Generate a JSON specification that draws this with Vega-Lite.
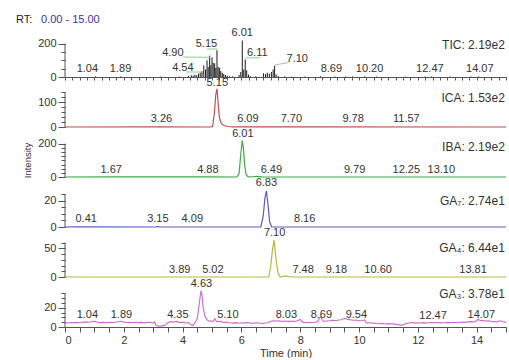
{
"$schema":"https://vega.github.io/schema/vega-lite/v6.json",
"padding":{"left":15,"top":14,"right":0,"bottom":0},
"bounds":"flush",
"spacing":0,
"background":"white",
"config":{"view":{"stroke":null},"font":"Liberation Sans","text":{"font":"Liberation Sans"},"axis":{"labelFont":"Liberation Sans","labelFontSize":11,"labelColor":"#333333","tickColor":"#555555","domainColor":"#555555","grid":false,"labelOverlap":false}},
"datasets":{
"tic":[{"t":1.04,"v":4},{"t":1.89,"v":4},{"t":3.26,"v":3},{"t":3.9,"v":3},{"t":4.2,"v":6},{"t":4.3,"v":10},{"t":4.36,"v":8},{"t":4.42,"v":14},{"t":4.48,"v":10},{"t":4.54,"v":20},{"t":4.6,"v":26},{"t":4.66,"v":34},{"t":4.72,"v":70},{"t":4.78,"v":45},{"t":4.83,"v":100},{"t":4.87,"v":60},{"t":4.92,"v":128},{"t":4.96,"v":70},{"t":5.0,"v":118},{"t":5.04,"v":85},{"t":5.09,"v":82},{"t":5.13,"v":55},{"t":5.17,"v":160},{"t":5.21,"v":60},{"t":5.26,"v":55},{"t":5.3,"v":35},{"t":5.35,"v":25},{"t":5.4,"v":18},{"t":5.46,"v":12},{"t":5.52,"v":8},{"t":5.6,"v":5},{"t":5.7,"v":4},{"t":5.92,"v":12},{"t":5.98,"v":30},{"t":6.03,"v":219},{"t":6.08,"v":45},{"t":6.13,"v":105},{"t":6.18,"v":40},{"t":6.24,"v":15},{"t":6.3,"v":6},{"t":6.49,"v":4},{"t":6.75,"v":22},{"t":6.82,"v":18},{"t":6.88,"v":26},{"t":6.95,"v":20},{"t":7.02,"v":30},{"t":7.08,"v":45},{"t":7.13,"v":68},{"t":7.18,"v":15},{"t":7.25,"v":6},{"t":7.48,"v":4},{"t":7.7,"v":3},{"t":8.16,"v":3},{"t":8.69,"v":5},{"t":9.18,"v":3},{"t":9.54,"v":3},{"t":9.78,"v":3},{"t":10.2,"v":4},{"t":10.6,"v":3},{"t":11.57,"v":3},{"t":12.25,"v":3},{"t":12.47,"v":3},{"t":13.1,"v":3},{"t":13.81,"v":3},{"t":14.07,"v":4}],
"ica":[{"t":0,"v":0},{"t":3.26,"v":0.5},{"t":4.95,"v":0},{"t":5.02,"v":2},{"t":5.08,"v":55},{"t":5.13,"v":130},{"t":5.17,"v":153},{"t":5.21,"v":95},{"t":5.25,"v":40},{"t":5.3,"v":18},{"t":5.36,"v":9},{"t":5.44,"v":5},{"t":5.55,"v":2},{"t":5.7,"v":0.5},{"t":6.09,"v":0.5},{"t":7.7,"v":0.3},{"t":15,"v":0}],
"iba":[{"t":0,"v":0},{"t":1.67,"v":0.5},{"t":4.88,"v":0.5},{"t":5.85,"v":0},{"t":5.92,"v":20},{"t":5.97,"v":120},{"t":6.03,"v":219},{"t":6.07,"v":170},{"t":6.11,"v":70},{"t":6.16,"v":15},{"t":6.22,"v":2},{"t":6.3,"v":0},{"t":6.45,"v":3},{"t":6.55,"v":4},{"t":6.7,"v":1},{"t":7,"v":0},{"t":15,"v":0}],
"ga7":[{"t":0,"v":0},{"t":0.41,"v":0.2},{"t":3.1,"v":0},{"t":3.15,"v":0.5},{"t":3.2,"v":0},{"t":6.66,"v":0},{"t":6.74,"v":8},{"t":6.8,"v":22},{"t":6.85,"v":27.4},{"t":6.9,"v":18},{"t":6.96,"v":4},{"t":7.03,"v":0},{"t":15,"v":0}],
"ga4":[{"t":0,"v":0},{"t":6.93,"v":0},{"t":7.0,"v":20},{"t":7.05,"v":45},{"t":7.11,"v":64.4},{"t":7.17,"v":35},{"t":7.24,"v":8},{"t":7.32,"v":0},{"t":7.4,"v":1},{"t":7.5,"v":2},{"t":7.6,"v":0.8},{"t":7.8,"v":0},{"t":15,"v":0}],
"ga3":[{"t":0.0,"v":4.5},{"t":0.1,"v":4.2},{"t":0.2,"v":4.6},{"t":0.3,"v":4.3},{"t":0.4,"v":4.8},{"t":0.5,"v":4.5},{"t":0.6,"v":4.9},{"t":0.7,"v":5.3},{"t":0.8,"v":4.9},{"t":0.9,"v":5.5},{"t":1.0,"v":6.0},{"t":1.1,"v":5.2},{"t":1.2,"v":4.6},{"t":1.3,"v":4.8},{"t":1.4,"v":4.4},{"t":1.5,"v":4.9},{"t":1.6,"v":4.6},{"t":1.7,"v":5.0},{"t":1.8,"v":5.4},{"t":1.9,"v":6.0},{"t":2.0,"v":5.1},{"t":2.1,"v":4.7},{"t":2.2,"v":4.9},{"t":2.3,"v":4.5},{"t":2.4,"v":5.0},{"t":2.5,"v":4.6},{"t":2.6,"v":4.8},{"t":2.7,"v":4.3},{"t":2.8,"v":4.7},{"t":2.9,"v":4.9},{"t":3.0,"v":4.0},{"t":3.05,"v":5.5},{"t":3.1,"v":1.5},{"t":3.2,"v":0.8},{"t":3.3,"v":1.2},{"t":3.4,"v":1.8},{"t":3.5,"v":4.5},{"t":3.6,"v":5.6},{"t":3.7,"v":5.2},{"t":3.8,"v":5.8},{"t":3.9,"v":4.6},{"t":4.0,"v":4.9},{"t":4.1,"v":4.2},{"t":4.2,"v":4.6},{"t":4.3,"v":2.0},{"t":4.35,"v":1.5},{"t":4.4,"v":3.5},{"t":4.45,"v":6},{"t":4.5,"v":9},{"t":4.55,"v":20},{"t":4.6,"v":32},{"t":4.63,"v":37.8},{"t":4.66,"v":33},{"t":4.7,"v":20},{"t":4.75,"v":12},{"t":4.8,"v":9},{"t":4.85,"v":7},{"t":4.9,"v":6},{"t":4.95,"v":6.5},{"t":5.0,"v":5.5},{"t":5.05,"v":6.5},{"t":5.1,"v":8.5},{"t":5.15,"v":6},{"t":5.2,"v":5.5},{"t":5.3,"v":6},{"t":5.4,"v":4.6},{"t":5.5,"v":5.2},{"t":5.6,"v":4.4},{"t":5.7,"v":4.0},{"t":5.8,"v":4.5},{"t":5.9,"v":3.9},{"t":6.0,"v":4.4},{"t":6.1,"v":4.0},{"t":6.2,"v":4.6},{"t":6.3,"v":4.2},{"t":6.4,"v":3.8},{"t":6.5,"v":4.4},{"t":6.6,"v":4.1},{"t":6.7,"v":3.6},{"t":6.8,"v":4.2},{"t":6.9,"v":4.5},{"t":7.0,"v":6.0},{"t":7.1,"v":6.5},{"t":7.2,"v":6.2},{"t":7.3,"v":6.4},{"t":7.4,"v":5.8},{"t":7.5,"v":6.3},{"t":7.6,"v":5.6},{"t":7.7,"v":6.2},{"t":7.8,"v":5.7},{"t":7.9,"v":6.4},{"t":8.0,"v":7.8},{"t":8.05,"v":6.0},{"t":8.1,"v":4.8},{"t":8.2,"v":4.5},{"t":8.3,"v":4.9},{"t":8.4,"v":4.5},{"t":8.5,"v":5.0},{"t":8.6,"v":5.8},{"t":8.65,"v":9.0},{"t":8.7,"v":10.5},{"t":8.75,"v":7.5},{"t":8.8,"v":5.8},{"t":8.9,"v":6.2},{"t":9.0,"v":6.5},{"t":9.1,"v":7.0},{"t":9.2,"v":6.6},{"t":9.3,"v":7.2},{"t":9.4,"v":7.6},{"t":9.5,"v":9.0},{"t":9.55,"v":8.5},{"t":9.6,"v":8.0},{"t":9.7,"v":7.5},{"t":9.8,"v":7.0},{"t":9.9,"v":7.2},{"t":10.0,"v":6.5},{"t":10.1,"v":6.8},{"t":10.2,"v":7.2},{"t":10.25,"v":4.0},{"t":10.3,"v":4.6},{"t":10.4,"v":4.2},{"t":10.5,"v":4.0},{"t":10.6,"v":3.6},{"t":10.7,"v":3.4},{"t":10.8,"v":3.6},{"t":10.9,"v":3.2},{"t":11.0,"v":3.5},{"t":11.1,"v":3.2},{"t":11.2,"v":3.0},{"t":11.3,"v":2.6},{"t":11.4,"v":2.0},{"t":11.5,"v":2.2},{"t":11.6,"v":3.6},{"t":11.7,"v":4.2},{"t":11.8,"v":4.6},{"t":11.9,"v":4.0},{"t":12.0,"v":4.4},{"t":12.1,"v":4.1},{"t":12.2,"v":4.5},{"t":12.3,"v":4.2},{"t":12.4,"v":4.6},{"t":12.5,"v":4.3},{"t":12.6,"v":4.7},{"t":12.7,"v":4.4},{"t":12.8,"v":4.6},{"t":12.9,"v":4.2},{"t":13.0,"v":4.8},{"t":13.1,"v":4.4},{"t":13.2,"v":4.9},{"t":13.3,"v":4.6},{"t":13.4,"v":5.0},{"t":13.5,"v":5.2},{"t":13.6,"v":4.8},{"t":13.7,"v":5.3},{"t":13.8,"v":5.6},{"t":13.9,"v":5.2},{"t":14.0,"v":6.5},{"t":14.05,"v":8.0},{"t":14.1,"v":7.0},{"t":14.2,"v":6.6},{"t":14.3,"v":6.2},{"t":14.4,"v":6.5},{"t":14.5,"v":6.0},{"t":14.6,"v":5.6},{"t":14.7,"v":5.3},{"t":14.8,"v":6.5},{"t":14.9,"v":5.5},{"t":15.0,"v":4.8}],
"labels":[
{"p":"TIC","s":"1.04","t":0.76,"v":46},{"p":"TIC","s":"1.89","t":1.89,"v":46},{"p":"TIC","s":"4.90","t":3.67,"v":146},{"p":"TIC","s":"4.54","t":4.01,"v":52},{"p":"TIC","s":"5.15","t":4.81,"v":196},{"p":"TIC","s":"6.01","t":6.03,"v":262},{"p":"TIC","s":"6.11","t":6.54,"v":146},{"p":"TIC","s":"7.10","t":7.9,"v":106},{"p":"TIC","s":"8.69","t":9.06,"v":46},{"p":"TIC","s":"10.20","t":10.36,"v":46},{"p":"TIC","s":"12.47","t":12.41,"v":46},{"p":"TIC","s":"14.07","t":14.11,"v":46},
{"p":"ICA","s":"5.15","t":5.18,"v":175},{"p":"ICA","s":"3.26","t":3.28,"v":31},{"p":"ICA","s":"6.09","t":6.22,"v":31},{"p":"ICA","s":"7.70","t":7.7,"v":31},{"p":"ICA","s":"9.78","t":9.8,"v":31},{"p":"ICA","s":"11.57","t":11.61,"v":31},
{"p":"IBA","s":"6.01","t":6.05,"v":256},{"p":"IBA","s":"1.67","t":1.57,"v":42},{"p":"IBA","s":"4.88","t":4.86,"v":42},{"p":"IBA","s":"6.49","t":7.02,"v":42},{"p":"IBA","s":"9.79","t":9.85,"v":42},{"p":"IBA","s":"12.25","t":11.61,"v":42},{"p":"IBA","s":"13.10","t":12.8,"v":42},
{"p":"GA7","s":"6.83","t":6.85,"v":33.2},{"p":"GA7","s":"0.41","t":0.72,"v":5.8},{"p":"GA7","s":"3.15","t":3.16,"v":5.8},{"p":"GA7","s":"4.09","t":4.33,"v":5.8},{"p":"GA7","s":"8.16","t":8.15,"v":5.8},
{"p":"GA4","s":"7.10","t":7.13,"v":76},{"p":"GA4","s":"3.89","t":3.9,"v":12.2},{"p":"GA4","s":"5.02","t":5.03,"v":12.2},{"p":"GA4","s":"7.48","t":8.1,"v":12.2},{"p":"GA4","s":"9.18","t":9.23,"v":12.2},{"p":"GA4","s":"10.60","t":10.65,"v":12.2},{"p":"GA4","s":"13.81","t":13.88,"v":12.2},
{"p":"GA3","s":"4.63","t":4.64,"v":44.4},{"p":"GA3","s":"1.04","t":0.76,"v":12.5},{"p":"GA3","s":"1.89","t":1.92,"v":12.5},{"p":"GA3","s":"4.35","t":3.84,"v":12.5},{"p":"GA3","s":"5.10","t":5.54,"v":12.5},{"p":"GA3","s":"8.03","t":7.53,"v":12.5},{"p":"GA3","s":"8.69","t":8.72,"v":12.5},{"p":"GA3","s":"9.54","t":9.91,"v":12.5},{"p":"GA3","s":"12.47","t":12.52,"v":11.5},{"p":"GA3","s":"14.07","t":14.16,"v":12.5}],
"titles":[{"p":"TIC","s":"TIC: 2.19e2","t":14.96,"v":192},{"p":"ICA","s":"ICA: 1.53e2","t":14.96,"v":115},{"p":"IBA","s":"IBA: 2.19e2","t":14.96,"v":182},{"p":"GA7","s":"GA₇: 2.74e1","t":14.96,"v":19.8},{"p":"GA4","s":"GA₄: 6.44e1","t":14.96,"v":51},{"p":"GA3","s":"GA₃: 3.78e1","t":14.96,"v":34.3}],
"leaders":[{"t":4.01,"t2":4.93,"v":120,"v2":118},{"t":4.12,"t2":4.63,"v":30,"v2":30},{"t":4.83,"t2":5.2,"v":168,"v2":168},{"t":6.13,"t2":6.64,"v":114,"v2":116},{"t":7.13,"t2":7.59,"v":72,"v2":86}],
"rt":[{"s":"RT:","t":-1.667,"v":378,"c":"k"},{"s":"0.00 - 15.00","t":-0.816,"v":378,"c":"b"}]
},
"vconcat":[
{"width":441,"height":50,"resolve":{"axis":{"x":"independent","y":"independent"}},"layer":[
 {"data":{"name":"tic"},"mark":{"type":"rule","color":"#1a1a1a","strokeWidth":1},"encoding":{
  "x":{"field":"t","type":"quantitative","scale":{"domain":[0,15]},"axis":{"values":[0,0.25,0.5,0.75,1,1.25,1.5,1.75,2,2.25,2.5,2.75,3,3.25,3.5,3.75,4,4.25,4.5,4.75,5,5.25,5.5,5.75,6,6.25,6.5,6.75,7,7.25,7.5,7.75,8,8.25,8.5,8.75,9,9.25,9.5,9.75,10,10.25,10.5,10.75,11,11.25,11.5,11.75,12,12.25,12.5,12.75,13,13.25,13.5,13.75,14,14.25,14.5,14.75,15],"labels":false,"tickSize":3,"domain":true,"title":null,"orient":"bottom"}},
  "y":{"field":"v","type":"quantitative","scale":{"domain":[0,300]},"axis":{"values":[0,200],"tickSize":7,"labelPadding":2,"domain":false,"title":null,"orient":"left"}},
  "y2":{"datum":0}}},
 {"data":{"name":"labels"},"transform":[{"filter":"datum.p == 'TIC'"}],"mark":{"type":"text","fontSize":11,"color":"#333333","baseline":"middle","align":"center"},"encoding":{
  "x":{"field":"t","type":"quantitative","scale":{"domain":[0,15]},"axis":null},
  "y":{"field":"v","type":"quantitative","scale":{"domain":[0,300]},"axis":{"values":[0,50,100,150,200],"labels":false,"tickSize":4,"domain":false,"title":null,"orient":"left"}},
  "text":{"field":"s"}}},
 {"data":{"name":"leaders"},"mark":{"type":"rule","color":"#8fcf8f","strokeWidth":1},"encoding":{
  "x":{"field":"t","type":"quantitative","scale":{"domain":[0,15]},"axis":null},"x2":{"field":"t2"},
  "y":{"field":"v","type":"quantitative","scale":{"domain":[0,300]},"axis":null},"y2":{"field":"v2"}}},
 {"data":{"name":"titles"},"transform":[{"filter":"datum.p == 'TIC'"}],"mark":{"type":"rule","color":"#555555"},"encoding":{
  "x":{"datum":0,"type":"quantitative","scale":{"domain":[0,15]},"axis":null},
  "y":{"datum":0,"type":"quantitative","scale":{"domain":[0,300]},"axis":null},"y2":{"datum":200}}},
 {"data":{"name":"titles"},"transform":[{"filter":"datum.p == 'TIC'"}],"mark":{"type":"text","fontSize":12,"color":"#333333","baseline":"middle","align":"right"},"encoding":{
  "x":{"field":"t","type":"quantitative","scale":{"domain":[0,15]},"axis":null},
  "y":{"field":"v","type":"quantitative","scale":{"domain":[0,300]},"axis":null},
  "text":{"field":"s"}}},
 {"data":{"name":"rt"},"mark":{"type":"text","fontSize":11,"baseline":"top","align":"left"},"encoding":{
  "x":{"field":"t","type":"quantitative","scale":{"domain":[0,15]},"axis":null},
  "y":{"field":"v","type":"quantitative","scale":{"domain":[0,300]},"axis":null},
  "text":{"field":"s"},
  "color":{"field":"c","type":"nominal","scale":{"domain":["k","b"],"range":["#222222","#3535a5"]},"legend":null}}}
]},
{"width":441,"height":50,"resolve":{"axis":{"x":"independent","y":"independent"}},"layer":[
 {"data":{"name":"ica"},"mark":{"type":"line","color":"#c05050","strokeWidth":1.2},"encoding":{
  "x":{"field":"t","type":"quantitative","scale":{"domain":[0,15]},"axis":null},
  "y":{"field":"v","type":"quantitative","scale":{"domain":[0,200]},"axis":{"values":[0,100],"tickSize":7,"labelPadding":2,"domain":false,"title":null,"orient":"left"}}}},
 {"data":{"name":"labels"},"transform":[{"filter":"datum.p == 'ICA'"}],"mark":{"type":"text","fontSize":11,"color":"#333333","baseline":"middle","align":"center"},"encoding":{
  "x":{"field":"t","type":"quantitative","scale":{"domain":[0,15]},"axis":null},
  "y":{"field":"v","type":"quantitative","scale":{"domain":[0,200]},"axis":{"values":[0,20,40,60,80,100,120,140],"labels":false,"tickSize":4,"domain":false,"title":null,"orient":"left"}},
  "text":{"field":"s"}}},
 {"data":{"name":"titles"},"transform":[{"filter":"datum.p == 'ICA'"}],"mark":{"type":"rule","color":"#555555"},"encoding":{
  "x":{"datum":0,"type":"quantitative","scale":{"domain":[0,15]},"axis":null},
  "y":{"datum":0,"type":"quantitative","scale":{"domain":[0,200]},"axis":null},"y2":{"datum":140}}},
 {"data":{"name":"titles"},"transform":[{"filter":"datum.p == 'ICA'"}],"mark":{"type":"text","fontSize":12,"color":"#333333","baseline":"middle","align":"right"},"encoding":{
  "x":{"field":"t","type":"quantitative","scale":{"domain":[0,15]},"axis":null},
  "y":{"field":"v","type":"quantitative","scale":{"domain":[0,200]},"axis":null},
  "text":{"field":"s"}}}
]},
{"width":441,"height":50,"resolve":{"axis":{"x":"independent","y":"independent"}},"layer":[
 {"data":{"name":"iba"},"mark":{"type":"line","color":"#3daa4a","strokeWidth":1.2},"encoding":{
  "x":{"field":"t","type":"quantitative","scale":{"domain":[0,15]},"axis":null},
  "y":{"field":"v","type":"quantitative","scale":{"domain":[0,300]},"axis":{"values":[0,200],"tickSize":7,"labelPadding":2,"domain":false,"orient":"left","title":"Intensity","titleX":-33,"titleY":33,"titleAngle":-90,"titleAlign":"center","titleBaseline":"bottom","titleFontSize":9.5,"titleFontWeight":"normal","titleColor":"#333333","titleFont":"Liberation Sans"}}}},
 {"data":{"name":"labels"},"transform":[{"filter":"datum.p == 'IBA'"}],"mark":{"type":"text","fontSize":11,"color":"#333333","baseline":"middle","align":"center"},"encoding":{
  "x":{"field":"t","type":"quantitative","scale":{"domain":[0,15]},"axis":null},
  "y":{"field":"v","type":"quantitative","scale":{"domain":[0,300]},"axis":{"values":[0,25,50,75,100,125,150,175,200],"labels":false,"tickSize":4,"domain":false,"title":null,"orient":"left"}},
  "text":{"field":"s"}}},
 {"data":{"name":"titles"},"transform":[{"filter":"datum.p == 'IBA'"}],"mark":{"type":"rule","color":"#555555"},"encoding":{
  "x":{"datum":0,"type":"quantitative","scale":{"domain":[0,15]},"axis":null},
  "y":{"datum":0,"type":"quantitative","scale":{"domain":[0,300]},"axis":null},"y2":{"datum":200}}},
 {"data":{"name":"titles"},"transform":[{"filter":"datum.p == 'IBA'"}],"mark":{"type":"text","fontSize":12,"color":"#333333","baseline":"middle","align":"right"},"encoding":{
  "x":{"field":"t","type":"quantitative","scale":{"domain":[0,15]},"axis":null},
  "y":{"field":"v","type":"quantitative","scale":{"domain":[0,300]},"axis":null},
  "text":{"field":"s"}}}
]},
{"width":441,"height":50,"resolve":{"axis":{"x":"independent","y":"independent"}},"layer":[
 {"data":{"name":"ga7"},"mark":{"type":"line","color":"#5a5ac8","strokeWidth":1.2},"encoding":{
  "x":{"field":"t","type":"quantitative","scale":{"domain":[0,15]},"axis":null},
  "y":{"field":"v","type":"quantitative","scale":{"domain":[0,38]},"axis":{"values":[0,20],"tickSize":7,"labelPadding":2,"domain":false,"title":null,"orient":"left"}}}},
 {"data":{"name":"labels"},"transform":[{"filter":"datum.p == 'GA7'"}],"mark":{"type":"text","fontSize":11,"color":"#333333","baseline":"middle","align":"center"},"encoding":{
  "x":{"field":"t","type":"quantitative","scale":{"domain":[0,15]},"axis":null},
  "y":{"field":"v","type":"quantitative","scale":{"domain":[0,38]},"axis":{"values":[0,5,10,15,20,25],"labels":false,"tickSize":4,"domain":false,"title":null,"orient":"left"}},
  "text":{"field":"s"}}},
 {"data":{"name":"titles"},"transform":[{"filter":"datum.p == 'GA7'"}],"mark":{"type":"rule","color":"#555555"},"encoding":{
  "x":{"datum":0,"type":"quantitative","scale":{"domain":[0,15]},"axis":null},
  "y":{"datum":0,"type":"quantitative","scale":{"domain":[0,38]},"axis":null},"y2":{"datum":25}}},
 {"data":{"name":"titles"},"transform":[{"filter":"datum.p == 'GA7'"}],"mark":{"type":"text","fontSize":12,"color":"#333333","baseline":"middle","align":"right"},"encoding":{
  "x":{"field":"t","type":"quantitative","scale":{"domain":[0,15]},"axis":null},
  "y":{"field":"v","type":"quantitative","scale":{"domain":[0,38]},"axis":null},
  "text":{"field":"s"}}}
]},
{"width":441,"height":50,"resolve":{"axis":{"x":"independent","y":"independent"}},"layer":[
 {"data":{"name":"ga4"},"mark":{"type":"line","color":"#b8b83c","strokeWidth":1.2},"encoding":{
  "x":{"field":"t","type":"quantitative","scale":{"domain":[0,15]},"axis":null},
  "y":{"field":"v","type":"quantitative","scale":{"domain":[0,87]},"axis":{"values":[0,50],"tickSize":7,"labelPadding":2,"domain":false,"title":null,"orient":"left"}}}},
 {"data":{"name":"labels"},"transform":[{"filter":"datum.p == 'GA4'"}],"mark":{"type":"text","fontSize":11,"color":"#333333","baseline":"middle","align":"center"},"encoding":{
  "x":{"field":"t","type":"quantitative","scale":{"domain":[0,15]},"axis":null},
  "y":{"field":"v","type":"quantitative","scale":{"domain":[0,87]},"axis":{"values":[0,10,20,30,40,50,60],"labels":false,"tickSize":4,"domain":false,"title":null,"orient":"left"}},
  "text":{"field":"s"}}},
 {"data":{"name":"titles"},"transform":[{"filter":"datum.p == 'GA4'"}],"mark":{"type":"rule","color":"#555555"},"encoding":{
  "x":{"datum":0,"type":"quantitative","scale":{"domain":[0,15]},"axis":null},
  "y":{"datum":0,"type":"quantitative","scale":{"domain":[0,87]},"axis":null},"y2":{"datum":60}}},
 {"data":{"name":"titles"},"transform":[{"filter":"datum.p == 'GA4'"}],"mark":{"type":"text","fontSize":12,"color":"#333333","baseline":"middle","align":"right"},"encoding":{
  "x":{"field":"t","type":"quantitative","scale":{"domain":[0,15]},"axis":null},
  "y":{"field":"v","type":"quantitative","scale":{"domain":[0,87]},"axis":null},
  "text":{"field":"s"}}}
]},
{"width":441,"height":50,"resolve":{"axis":{"x":"independent","y":"independent"}},"layer":[
 {"data":{"name":"ga3"},"mark":{"type":"line","color":"#cc66cc","strokeWidth":1.1},"encoding":{
  "x":{"field":"t","type":"quantitative","scale":{"domain":[0,15]},"axis":{"values":[0,0.5,1,1.5,2,2.5,3,3.5,4,4.5,5,5.5,6,6.5,7,7.5,8,8.5,9,9.5,10,10.5,11,11.5,12,12.5,13,13.5,14,14.5,15],"labelExpr":"datum.value % 2 === 0 ? toString(datum.value) : ''","tickSize":5,"labelPadding":2,"domain":true,"orient":"bottom","title":"Time (min)","titleFontSize":11,"titleFontWeight":"normal","titleColor":"#333333","titleFont":"Liberation Sans","titlePadding":2}},
  "y":{"field":"v","type":"quantitative","scale":{"domain":[0,52]},"axis":{"values":[0,20],"tickSize":7,"labelPadding":2,"domain":false,"title":null,"orient":"left"}}}},
 {"data":{"name":"labels"},"transform":[{"filter":"datum.p == 'GA3'"}],"mark":{"type":"text","fontSize":11,"color":"#333333","baseline":"middle","align":"center"},"encoding":{
  "x":{"field":"t","type":"quantitative","scale":{"domain":[0,15]},"axis":null},
  "y":{"field":"v","type":"quantitative","scale":{"domain":[0,52]},"axis":{"values":[0,5,10,15,20,25,30,35],"labels":false,"tickSize":4,"domain":false,"title":null,"orient":"left"}},
  "text":{"field":"s"}}},
 {"data":{"name":"titles"},"transform":[{"filter":"datum.p == 'GA3'"}],"mark":{"type":"rule","color":"#555555"},"encoding":{
  "x":{"datum":0,"type":"quantitative","scale":{"domain":[0,15]},"axis":null},
  "y":{"datum":0,"type":"quantitative","scale":{"domain":[0,52]},"axis":null},"y2":{"datum":35}}},
 {"data":{"name":"titles"},"transform":[{"filter":"datum.p == 'GA3'"}],"mark":{"type":"text","fontSize":12,"color":"#333333","baseline":"middle","align":"right"},"encoding":{
  "x":{"field":"t","type":"quantitative","scale":{"domain":[0,15]},"axis":null},
  "y":{"field":"v","type":"quantitative","scale":{"domain":[0,52]},"axis":null},
  "text":{"field":"s"}}}
]}
]
}
